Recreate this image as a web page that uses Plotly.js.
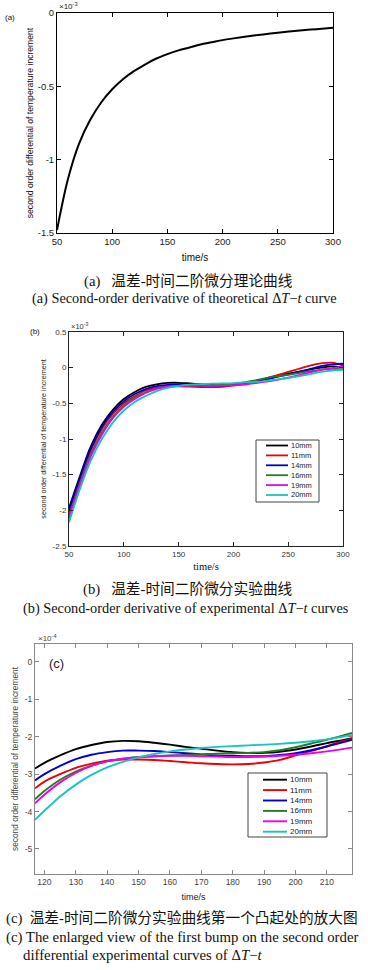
<!DOCTYPE html>
<html><head><meta charset="utf-8">
<script src="https://cdn.plot.ly/plotly-3.0.1.min.js"></script>
<style>html,body{margin:0;padding:0;background:#fff;}#chart{width:368px;height:970px;}</style>
</head><body><div id="chart"></div>
<script>
// ---------- data ----------
// (a) theoretical curve, units 1e-3
const timeA = [50,60,70,80,90,100,110,120,130,140,150,160,170,180,190,200,210,220,230,240,250,260,270,280,290,300];
const theory = [-1.48,-1.13,-0.89,-0.73,-0.61,-0.52,-0.45,-0.395,-0.35,-0.31,-0.28,-0.255,-0.235,-0.215,-0.2,-0.185,-0.173,-0.162,-0.152,-0.143,-0.134,-0.126,-0.119,-0.113,-0.107,-0.101];

// (b) experimental curves, units 1e-3
const seriesNames = ['10mm','11mm','14mm','16mm','19mm','20mm'];
const seriesColors = ['#000000','#ee0000','#0000cc','#1f7f1f','#ee00ee','#19c3c3'];
const timeB = [50,60,70,80,90,100,110,120,130,140,150,160,170,180,190,200,210,220,230,240,250,260,270,280,290,300];
const b10 = [-1.97,-1.52,-1.10,-0.80,-0.59,-0.44,-0.34,-0.27,-0.233,-0.214,-0.212,-0.221,-0.232,-0.241,-0.243,-0.234,-0.217,-0.187,-0.15,-0.115,-0.085,-0.055,-0.025,0.0,0.018,0.0];
const b11 = [-2.05,-1.58,-1.16,-0.86,-0.65,-0.50,-0.40,-0.32,-0.283,-0.264,-0.261,-0.265,-0.271,-0.274,-0.269,-0.25,-0.225,-0.19,-0.15,-0.105,-0.06,-0.015,0.03,0.06,0.07,0.03];
const b14 = [-2.00,-1.55,-1.13,-0.83,-0.62,-0.47,-0.37,-0.30,-0.26,-0.241,-0.237,-0.241,-0.247,-0.251,-0.252,-0.244,-0.226,-0.195,-0.165,-0.13,-0.095,-0.06,-0.02,0.02,0.045,0.055];
const b16 = [-2.08,-1.62,-1.21,-0.91,-0.69,-0.53,-0.42,-0.345,-0.293,-0.266,-0.254,-0.25,-0.247,-0.244,-0.241,-0.228,-0.208,-0.178,-0.145,-0.12,-0.1,-0.075,-0.05,-0.03,-0.015,-0.025];
const b19 = [-2.12,-1.65,-1.24,-0.94,-0.71,-0.55,-0.44,-0.355,-0.297,-0.266,-0.255,-0.251,-0.252,-0.254,-0.253,-0.248,-0.239,-0.215,-0.195,-0.17,-0.14,-0.105,-0.065,-0.03,-0.005,0.01];
const b20 = [-2.17,-1.70,-1.30,-1.00,-0.77,-0.60,-0.48,-0.398,-0.328,-0.282,-0.255,-0.239,-0.23,-0.225,-0.221,-0.216,-0.207,-0.2,-0.185,-0.165,-0.145,-0.12,-0.09,-0.06,-0.04,-0.03];

// (c) enlarged view of first bump, units 1e-4
const timeC = [117,120,125,130,135,140,145,150,155,160,165,170,175,180,185,190,195,200,205,210,215,218];
const c10 = [-2.85,-2.70,-2.50,-2.33,-2.22,-2.14,-2.11,-2.12,-2.16,-2.21,-2.27,-2.32,-2.37,-2.41,-2.43,-2.43,-2.40,-2.34,-2.26,-2.17,-2.09,-2.04];
const c11 = [-3.38,-3.20,-3.00,-2.83,-2.72,-2.64,-2.61,-2.61,-2.62,-2.65,-2.68,-2.71,-2.73,-2.74,-2.73,-2.69,-2.62,-2.50,-2.38,-2.25,-2.12,-2.05];
const c14 = [-3.17,-3.00,-2.78,-2.60,-2.48,-2.41,-2.37,-2.37,-2.38,-2.41,-2.44,-2.47,-2.50,-2.51,-2.52,-2.52,-2.49,-2.44,-2.36,-2.26,-2.15,-2.08];
const c16 = [-3.67,-3.45,-3.15,-2.93,-2.77,-2.66,-2.59,-2.54,-2.52,-2.50,-2.49,-2.47,-2.45,-2.44,-2.43,-2.41,-2.36,-2.28,-2.18,-2.08,-1.97,-1.90];
const c19 = [-3.78,-3.55,-3.22,-2.97,-2.78,-2.66,-2.59,-2.55,-2.52,-2.51,-2.51,-2.52,-2.53,-2.54,-2.54,-2.53,-2.51,-2.48,-2.44,-2.39,-2.33,-2.29];
const c20 = [-4.22,-3.98,-3.60,-3.28,-3.02,-2.82,-2.67,-2.55,-2.46,-2.39,-2.34,-2.30,-2.27,-2.25,-2.23,-2.21,-2.19,-2.16,-2.12,-2.07,-2.00,-1.95];

// tick labels
const tickAx = [50,100,150,200,250,300];
const tickAy = [0,-0.5,-1,-1.5];
const tickAyText = ['0','-0.5','-1','-1.5'];
const tickBy = [0.5,0,-0.5,-1,-1.5,-2,-2.5];
const tickByText = ['0.5','0','-0.5','-1','-1.5','-2','-2.5'];
const tickCx = [120,130,140,150,160,170,180,190,200,210];
const tickCy = [0,-1,-2,-3,-4,-5];
const tickCyText = ['0','-1','-2','-3','-4','-5'];

const yTitle = 'second order differential of temperature increment';

// ---------- layout helpers ----------
const W = 368, H = 970;
const px = x => x / W;
const py = y => 1 - y / H;

function axis(o) {
  return Object.assign({
    showline: true, mirror: 'ticks', ticks: 'inside', ticklen: 4, tickwidth: 1,
    showgrid: false, zeroline: false, tickmode: 'array', fixedrange: true,
    automargin: false
  }, o);
}

const bSeries = [b10,b11,b14,b16,b19,b20];
const cSeries = [c10,c11,c14,c16,c19,c20];

const traces = [];
traces.push({x: timeA, y: theory, type: 'scatter', mode: 'lines', line: {color: '#000', width: 2, shape: 'spline', smoothing: 1}, xaxis: 'x', yaxis: 'y', showlegend: false});
bSeries.forEach((s, i) => traces.push({x: timeB, y: s, type: 'scatter', mode: 'lines', name: seriesNames[i],
  line: {color: seriesColors[i], width: 1.8, shape: 'spline', smoothing: 1}, xaxis: 'x2', yaxis: 'y2', showlegend: false}));
cSeries.forEach((s, i) => traces.push({x: timeC, y: s, type: 'scatter', mode: 'lines', name: seriesNames[i],
  line: {color: seriesColors[i], width: 1.9, shape: 'spline', smoothing: 1}, xaxis: 'x3', yaxis: 'y3', showlegend: false}));

const sans = 'Liberation Sans, Arial, sans-serif';
const serif = 'Liberation Serif, Times New Roman, serif';
const cjk = 'Liberation Serif, Noto Sans CJK SC, serif';

const shapes = [];
const annotations = [];

function legendBox(x0, x1, y0, y1, firstY, step, lx0, lx1, tx, fs, lw) {
  shapes.push({type: 'rect', xref: 'paper', yref: 'paper', x0: px(x0), x1: px(x1), y0: py(y1), y1: py(y0),
    line: {color: '#444', width: 1}, fillcolor: '#fff', layer: 'above'});
  seriesNames.forEach((n, i) => {
    const y = firstY + i * step;
    shapes.push({type: 'line', xref: 'paper', yref: 'paper', x0: px(lx0), x1: px(lx1), y0: py(y), y1: py(y),
      line: {color: seriesColors[i], width: lw}, layer: 'above'});
    annotations.push({xref: 'paper', yref: 'paper', x: px(tx), y: py(y), xanchor: 'left', yanchor: 'middle',
      text: n, showarrow: false, font: {family: sans, size: fs, color: '#222'}});
  });
}
legendBox(256, 319, 440, 502, 445.5, 9.9, 266, 288, 289, 7.5, 1.8);
legendBox(248, 327, 773, 837, 779.7, 10.4, 263, 287, 288, 8, 1.9);

function note(x, y, text, font, xanchor) {
  annotations.push({xref: 'paper', yref: 'paper', x: px(x), y: py(y), xanchor: xanchor || 'center', yanchor: 'middle',
    text: text, showarrow: false, font: font});
}
// panel labels and exponents
note(3, 17, '(a)', {family: sans, size: 8, color: '#111'}, 'left');
note(57, 6, '×10<sup>-3</sup>', {family: sans, size: 8, color: '#222'}, 'left');
note(28, 331, '(b)', {family: sans, size: 8, color: '#111'}, 'left');
note(69, 326, '×10<sup>-3</sup>', {family: sans, size: 7.5, color: '#333'}, 'left');
note(47, 663, '(c)', {family: sans, size: 13, color: '#222'}, 'left');
note(36, 638, '×10<sup>-4</sup>', {family: sans, size: 8, color: '#444'}, 'left');

// captions
note(188, 281, '(a)   温差-时间二阶微分理论曲线', {family: cjk, size: 14.7, color: '#111'});
note(185, 298, '(a) Second-order derivative of theoretical Δ<i>T</i>−<i>t</i> curve', {family: serif, size: 14.3, color: '#111'});
note(188, 589, '(b)   温差-时间二阶微分实验曲线', {family: cjk, size: 14.7, color: '#111'});
note(186, 608, '(b) Second-order derivative of experimental Δ<i>T</i>−<i>t</i> curves', {family: serif, size: 14.3, color: '#111'});
note(4, 918, '(c)  温差-时间二阶微分实验曲线第一个凸起处的放大图', {family: cjk, size: 14.7, color: '#111'}, 'left');
note(4, 937, '(c) The enlarged view of the first bump on the second order', {family: serif, size: 14.8, color: '#111'}, 'left');
note(21, 955, 'differential experimental curves of Δ<i>T</i>−<i>t</i>', {family: serif, size: 14.8, color: '#111'}, 'left');

const layout = {
  width: W, height: H, autosize: false,
  margin: {l: 0, r: 0, t: 0, b: 0},
  paper_bgcolor: '#fff', plot_bgcolor: '#fff',
  showlegend: false,
  xaxis: axis({domain: [px(57), px(333)], range: [50, 300], anchor: 'y', tickvals: tickAx,
    linecolor: '#000', tickcolor: '#000', tickfont: {family: sans, size: 9.5, color: '#222'},
    title: {text: 'time/s', font: {family: sans, size: 10, color: '#111'}, standoff: 7}}),
  yaxis: axis({domain: [py(233), py(13)], range: [-1.5, 0], anchor: 'x', tickvals: tickAy, ticktext: tickAyText,
    linecolor: '#000', tickcolor: '#000', tickfont: {family: sans, size: 9.5, color: '#222'},
    title: {text: yTitle, font: {family: sans, size: 8.6, color: '#111'}, standoff: 2}}),
  xaxis2: axis({domain: [px(69), px(343)], range: [50, 300], anchor: 'y2', tickvals: tickAx,
    linecolor: '#222', tickcolor: '#222', tickfont: {family: sans, size: 8, color: '#333'},
    title: {text: 'time/s', font: {family: serif, size: 10.5, color: '#111'}, standoff: 5}}),
  yaxis2: axis({domain: [py(546), py(332)], range: [-2.5, 0.5], anchor: 'x2', tickvals: tickBy, ticktext: tickByText,
    linecolor: '#222', tickcolor: '#222', tickfont: {family: sans, size: 8, color: '#333'},
    title: {text: yTitle, font: {family: sans, size: 7.2, color: '#222'}, standoff: 5}}),
  xaxis3: axis({domain: [px(35), px(352)], range: [117, 218], anchor: 'y3', tickvals: tickCx,
    linecolor: '#888', tickcolor: '#888', tickfont: {family: sans, size: 8.5, color: '#444'},
    title: {text: 'time/s', font: {family: sans, size: 9, color: '#222'}, standoff: 7}}),
  yaxis3: axis({domain: [py(874), py(644)], range: [-5.67, 0.48], anchor: 'x3', tickvals: tickCy, ticktext: tickCyText,
    linecolor: '#888', tickcolor: '#888', tickfont: {family: sans, size: 8.5, color: '#444'},
    title: {text: yTitle, font: {family: sans, size: 8.3, color: '#444'}, standoff: 4}}),
  shapes: shapes,
  annotations: annotations
};

Plotly.newPlot('chart', traces, layout, {staticPlot: true, displayModeBar: false});
</script>
</body></html>
